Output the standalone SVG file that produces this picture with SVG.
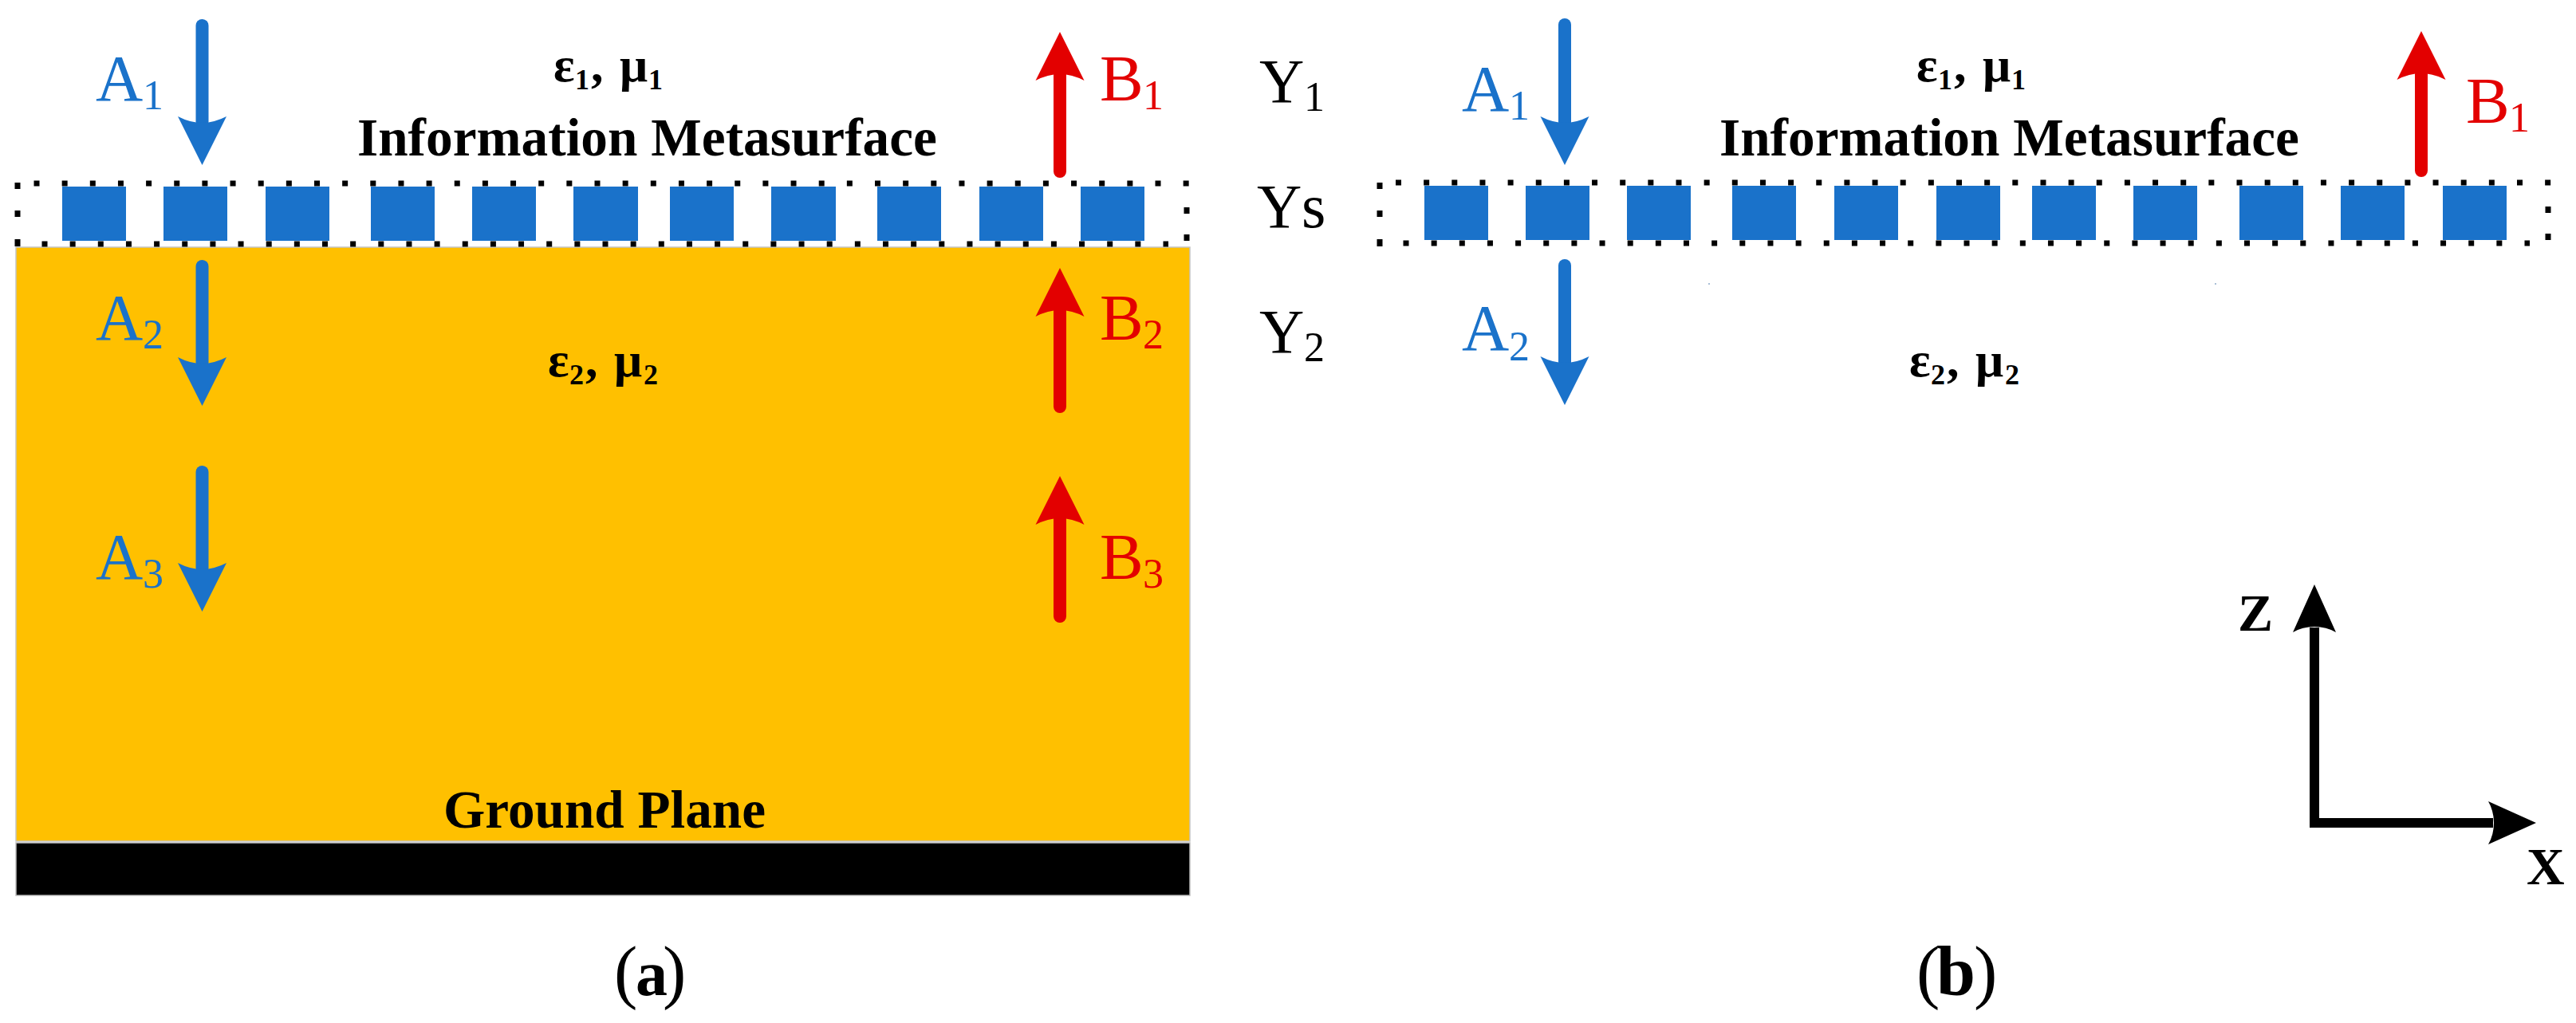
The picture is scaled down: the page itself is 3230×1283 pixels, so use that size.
<svg xmlns="http://www.w3.org/2000/svg" width="3230" height="1283" viewBox="0 0 3230 1283">
<style>
text{font-family:"Liberation Serif","Times New Roman",serif}
.lbl{font-size:82px}
.ylbl{font-size:78px;fill:#000}
.sub{font-size:52px}
.blue{fill:#1a72ca}
.red{fill:#e30000}
.mat{font-size:62px;font-weight:bold;fill:#000}
.msub{font-size:36px;font-weight:bold}
.title{font-size:68px;font-weight:bold;fill:#000}
.cap{font-size:88px;fill:#000}
.axis{font-size:66px;font-weight:bold;fill:#000}
.cell{fill:#1a72ca}
.dots{stroke:#000;stroke-width:7;stroke-dasharray:7 28.15;fill:none}
.dot{fill:#000}
.a{stroke:#1a72ca;stroke-width:16;stroke-linecap:round;fill:none;marker-end:url(#hb)}
.b{stroke:#e30000;stroke-width:16;stroke-linecap:round;fill:none;marker-end:url(#hr)}
.ax{stroke:#000;stroke-width:12;fill:none;marker-end:url(#hk)}
</style>
<defs>
<marker id="hb" markerUnits="userSpaceOnUse" viewBox="0 0 80 70" markerWidth="80" markerHeight="70" refX="10" refY="35" orient="auto"><path d="M64 35 L3 4.500 Q11 20 11 35 Q11 50 3 65.500 Z" fill="#1a72ca"/></marker>
<marker id="hr" markerUnits="userSpaceOnUse" viewBox="0 0 80 70" markerWidth="80" markerHeight="70" refX="10" refY="35" orient="auto"><path d="M64 35 L3 4.500 Q11 20 11 35 Q11 50 3 65.500 Z" fill="#e30000"/></marker>
<marker id="hk" markerUnits="userSpaceOnUse" viewBox="0 0 80 70" markerWidth="80" markerHeight="70" refX="10" refY="35" orient="auto"><path d="M64 35 L4 8 Q11 20 11 35 Q11 50 4 62 Z" fill="#000"/></marker>
</defs>
<rect width="3230" height="1283" fill="#fff"/>

<g id="panel-a">
<g id="substrate"><rect x="20" y="310" width="1472" height="745" fill="#ffc000" stroke="#c4c4c4" stroke-width="1.5"/></g>
<g id="ground-plane"><rect x="20" y="1057" width="1472" height="66" fill="#000" stroke="#bdbdbd" stroke-width="1.5"/>
<text class="title" x="556" y="1038" textLength="404" lengthAdjust="spacingAndGlyphs">Ground Plane</text></g>
<g id="metasurface-a">
<line class="dots" x1="42.500" y1="230" x2="1492" y2="230"/>
<line class="dots" x1="52.500" y1="306" x2="1465" y2="306"/>
<rect class="dot" x="18.500" y="229" width="7" height="8"/><rect class="dot" x="18.500" y="264" width="7" height="8"/><rect class="dot" x="18.500" y="300" width="7" height="9"/>
<rect class="dot" x="1484.500" y="260" width="7" height="8"/><rect class="dot" x="1484.500" y="294" width="7" height="8"/>
<rect class="cell" x="78" y="234" width="80" height="68"/><rect class="cell" x="205" y="234" width="80" height="68"/><rect class="cell" x="333" y="234" width="80" height="68"/><rect class="cell" x="465" y="234" width="80" height="68"/><rect class="cell" x="592" y="234" width="80" height="68"/><rect class="cell" x="719" y="234" width="81" height="68"/><rect class="cell" x="840" y="234" width="80" height="68"/><rect class="cell" x="967" y="234" width="81" height="68"/><rect class="cell" x="1100" y="234" width="80" height="68"/><rect class="cell" x="1228" y="234" width="80" height="68"/><rect class="cell" x="1355" y="234" width="80" height="68"/>
</g>
<g id="label-a-top">
<text class="mat"><tspan x="694" y="102">ε</tspan><tspan class="msub" x="721" y="112">1</tspan><tspan x="741" y="102">,</tspan><tspan x="777" y="102">μ</tspan><tspan class="msub" x="813" y="112">1</tspan></text>
<text class="title" x="448" y="195" textLength="727" lengthAdjust="spacingAndGlyphs">Information Metasurface</text>
</g>
<g id="label-a-sub">
<text class="mat"><tspan x="687" y="472">ε</tspan><tspan class="msub" x="714" y="482">2</tspan><tspan x="734" y="472">,</tspan><tspan x="770" y="472">μ</tspan><tspan class="msub" x="807" y="482">2</tspan></text>
</g>
<g id="A1a"><text class="lbl blue"><tspan x="120" y="126">A</tspan><tspan class="sub" x="179" y="137">1</tspan></text></g>
<g id="A2a"><text class="lbl blue"><tspan x="120" y="426">A</tspan><tspan class="sub" x="179" y="437">2</tspan></text></g>
<g id="A3a"><text class="lbl blue"><tspan x="120" y="726">A</tspan><tspan class="sub" x="179" y="737">3</tspan></text></g>
<g id="B1a"><text class="lbl red"><tspan x="1379" y="126">B</tspan><tspan class="sub" x="1433" y="137">1</tspan></text></g>
<g id="B2a"><text class="lbl red"><tspan x="1379" y="426">B</tspan><tspan class="sub" x="1433" y="437">2</tspan></text></g>
<g id="B3a"><text class="lbl red"><tspan x="1379" y="726">B</tspan><tspan class="sub" x="1433" y="737">3</tspan></text></g>
<g id="caption-a"><text class="cap" y="1248"><tspan x="770">(</tspan><tspan font-weight="bold" font-size="80" x="797">a</tspan><tspan x="831">)</tspan></text></g>
</g>

<g id="impedances">
<g id="Y1"><text class="ylbl"><tspan x="1579" y="128">Y</tspan><tspan class="sub" x="1635" y="139">1</tspan></text></g>
<g id="Ys"><text class="ylbl"><tspan x="1576" y="285">Y</tspan><tspan x="1632" y="285">s</tspan></text></g>
<g id="Y2"><text class="ylbl"><tspan x="1579" y="442">Y</tspan><tspan class="sub" x="1635" y="453">2</tspan></text></g>
</g>

<g id="panel-b">
<g id="metasurface-b">
<line class="dots" x1="1750" y1="229" x2="3199" y2="229"/>
<line class="dots" x1="1759.500" y1="305" x2="3172" y2="305"/>
<rect class="dot" x="1726.500" y="229" width="7" height="8"/><rect class="dot" x="1726.500" y="264" width="7" height="8"/><rect class="dot" x="1726.500" y="300" width="7" height="9"/>
<rect class="dot" x="3191.500" y="259" width="7" height="8"/><rect class="dot" x="3191.500" y="293" width="7" height="8"/>
<rect class="cell" x="1786" y="233" width="80" height="68"/><rect class="cell" x="1913" y="233" width="80" height="68"/><rect class="cell" x="2040" y="233" width="80" height="68"/><rect class="cell" x="2172" y="233" width="80" height="68"/><rect class="cell" x="2300" y="233" width="80" height="68"/><rect class="cell" x="2428" y="233" width="80" height="68"/><rect class="cell" x="2548" y="233" width="80" height="68"/><rect class="cell" x="2675" y="233" width="80" height="68"/><rect class="cell" x="2808" y="233" width="80" height="68"/><rect class="cell" x="2935" y="233" width="80" height="68"/><rect class="cell" x="3063" y="233" width="80" height="68"/>
</g>
<g id="label-b-top">
<text class="mat"><tspan x="2403" y="102">ε</tspan><tspan class="msub" x="2430" y="112">1</tspan><tspan x="2450" y="102">,</tspan><tspan x="2486" y="102">μ</tspan><tspan class="msub" x="2522" y="112">1</tspan></text>
<text class="title" x="2156" y="195" textLength="727" lengthAdjust="spacingAndGlyphs">Information Metasurface</text>
</g>
<g id="label-b-sub">
<text class="mat"><tspan x="2394" y="472">ε</tspan><tspan class="msub" x="2421" y="482">2</tspan><tspan x="2441" y="472">,</tspan><tspan x="2477" y="472">μ</tspan><tspan class="msub" x="2514" y="482">2</tspan></text>
</g>
<g id="A1b"><text class="lbl blue"><tspan x="1833" y="139">A</tspan><tspan class="sub" x="1892" y="150">1</tspan></text></g>
<g id="A2b"><text class="lbl blue"><tspan x="1833" y="439">A</tspan><tspan class="sub" x="1892" y="452">2</tspan></text></g>
<g id="B1b"><text class="lbl red"><tspan x="3092" y="154">B</tspan><tspan class="sub" x="3146" y="165">1</tspan></text></g>
<g id="caption-b"><text class="cap" y="1248"><tspan x="2403">(</tspan><tspan font-weight="bold" x="2428">b</tspan><tspan x="2475">)</tspan></text></g>
<rect x="2142" y="355" width="2" height="2" fill="#a9bfd6"/><rect x="2777" y="355" width="2" height="2" fill="#a9bfd6"/>
</g>

<g id="axes">
<g id="axis-z"><text class="axis" x="2806" y="791">Z</text></g>
<g id="axis-x"><text class="axis" x="3168" y="1109">X</text></g>
</g>

<g id="connectors">
<line class="a" x1="253.500" y1="32" x2="253.500" y2="153"/>
<line class="a" x1="253.500" y1="334" x2="253.500" y2="455"/>
<line class="a" x1="253.500" y1="592" x2="253.500" y2="713"/>
<line class="b" x1="1329" y1="215" x2="1329" y2="94"/>
<line class="b" x1="1329" y1="510" x2="1329" y2="390"/>
<line class="b" x1="1329" y1="773" x2="1329" y2="651"/>
<line class="a" x1="1962" y1="31" x2="1962" y2="153"/>
<line class="a" x1="1962" y1="333" x2="1962" y2="454"/>
<line class="b" x1="3036" y1="214" x2="3036" y2="93"/>
<line class="ax" x1="2902" y1="1038" x2="2902" y2="787"/>
<line class="ax" x1="2896" y1="1032" x2="3126" y2="1032"/>
</g>
</svg>
